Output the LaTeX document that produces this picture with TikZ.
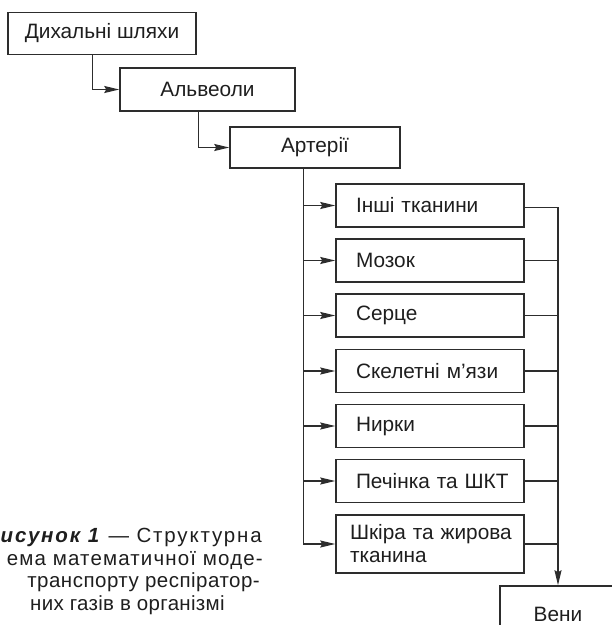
\documentclass[tikz,border=0pt]{standalone}
\usepackage{fontspec}
\setmainfont{Liberation Sans}
\usetikzlibrary{positioning,arrows.meta,calc}
\definecolor{schemeLine}{RGB}{45,45,45}
\definecolor{schemeText}{RGB}{30,30,30}

\begin{document}
\begin{tikzpicture}[x=1pt,y=-1pt,
      box/.style={draw=schemeLine, line width=1.5pt, minimum height=42pt,
                  inner sep=0pt, font=\fontsize{20.8}{23}\selectfont\color{schemeText}},
      organ/.style={box, minimum width=188pt, text width=168pt, align=left,
                    inner xsep=10pt, execute at begin node={\hspace*{10pt}}},
      captxt/.style={font=\fontsize{20.5}{23}\selectfont\color{schemeText}, inner sep=0pt},
      arr/.style={-{Stealth[length=15pt,width=7pt,inset=2pt]}, schemeLine, line width=1.5pt},
      ln/.style={schemeLine, line width=1.5pt}
    ]
    \useasboundingbox (0,0) rectangle (612,625);

    \node[box,minimum width=188pt] (dih) at (102,33.5) {Дихальні шляхи};
    \node[box,minimum width=175pt,minimum height=43pt] (alv) at (207.5,89.5) {Альвеоли};
    \node[box,minimum width=170pt,minimum height=41pt] (art) at (315,147.5) {Артерії};

    \node[organ,minimum height=43pt] (o1) at (430,205.5) {Інші тканини};
    \node[organ,minimum height=43pt] (o2) at (430,260.5) {Мозок};
    \node[organ,minimum height=43pt] (o3) at (430,315.5) {Серце};
    \node[organ,minimum height=43pt] (o4) at (430,371) {Скелетні м’язи};
    \node[organ,minimum height=43pt] (o5) at (430,426) {Нирки};
    \node[organ,minimum height=43pt] (o6) at (430,481) {Печінка та ШКТ};
    \node[organ,minimum height=58pt,inner xsep=4pt,text width=180pt] (o7) at (430,544)
      {Шкіра та жирова\\\hspace*{10pt}тканина};

    \node[box,minimum width=116pt,minimum height=56pt] (veny) at (558,614) {Вени};

    \draw[arr] ([xshift=85pt]dih.south west) |- (alv.west);
    \draw[arr] ([xshift=79pt]alv.south west) |- (art.west);
    \foreach \o in {o1,o2,o3,o4,o5,o6,o7}
      \draw[arr] ([xshift=74pt]art.south west) |- (\o.west);

    \foreach \o in {o2,o3,o4,o5,o6,o7}
      \draw[ln] (\o.east) -- (\o.east -| veny.north);
    \draw[arr] ([yshift=-2pt]o1.east) -| (veny.north);

    % caption, cut by the page edge
    \node[captxt,anchor=base east] (c1) at (262,542) {\addfontfeatures{LetterSpace=9}\textbf{\textit{исунок 1}} — Структурна};
    \node[captxt,anchor=base east] (c2) at (263,565) {\addfontfeatures{LetterSpace=5.6}ема математичної моде-};
    \node[captxt,anchor=base east] (c3) at (260,587) {\addfontfeatures{LetterSpace=2.4}транспорту респіратор-};
    \node[captxt,anchor=base west] (c4) at (30,610) {\addfontfeatures{LetterSpace=1.5}них газів в організмі};
  \end{tikzpicture}
\end{document}
